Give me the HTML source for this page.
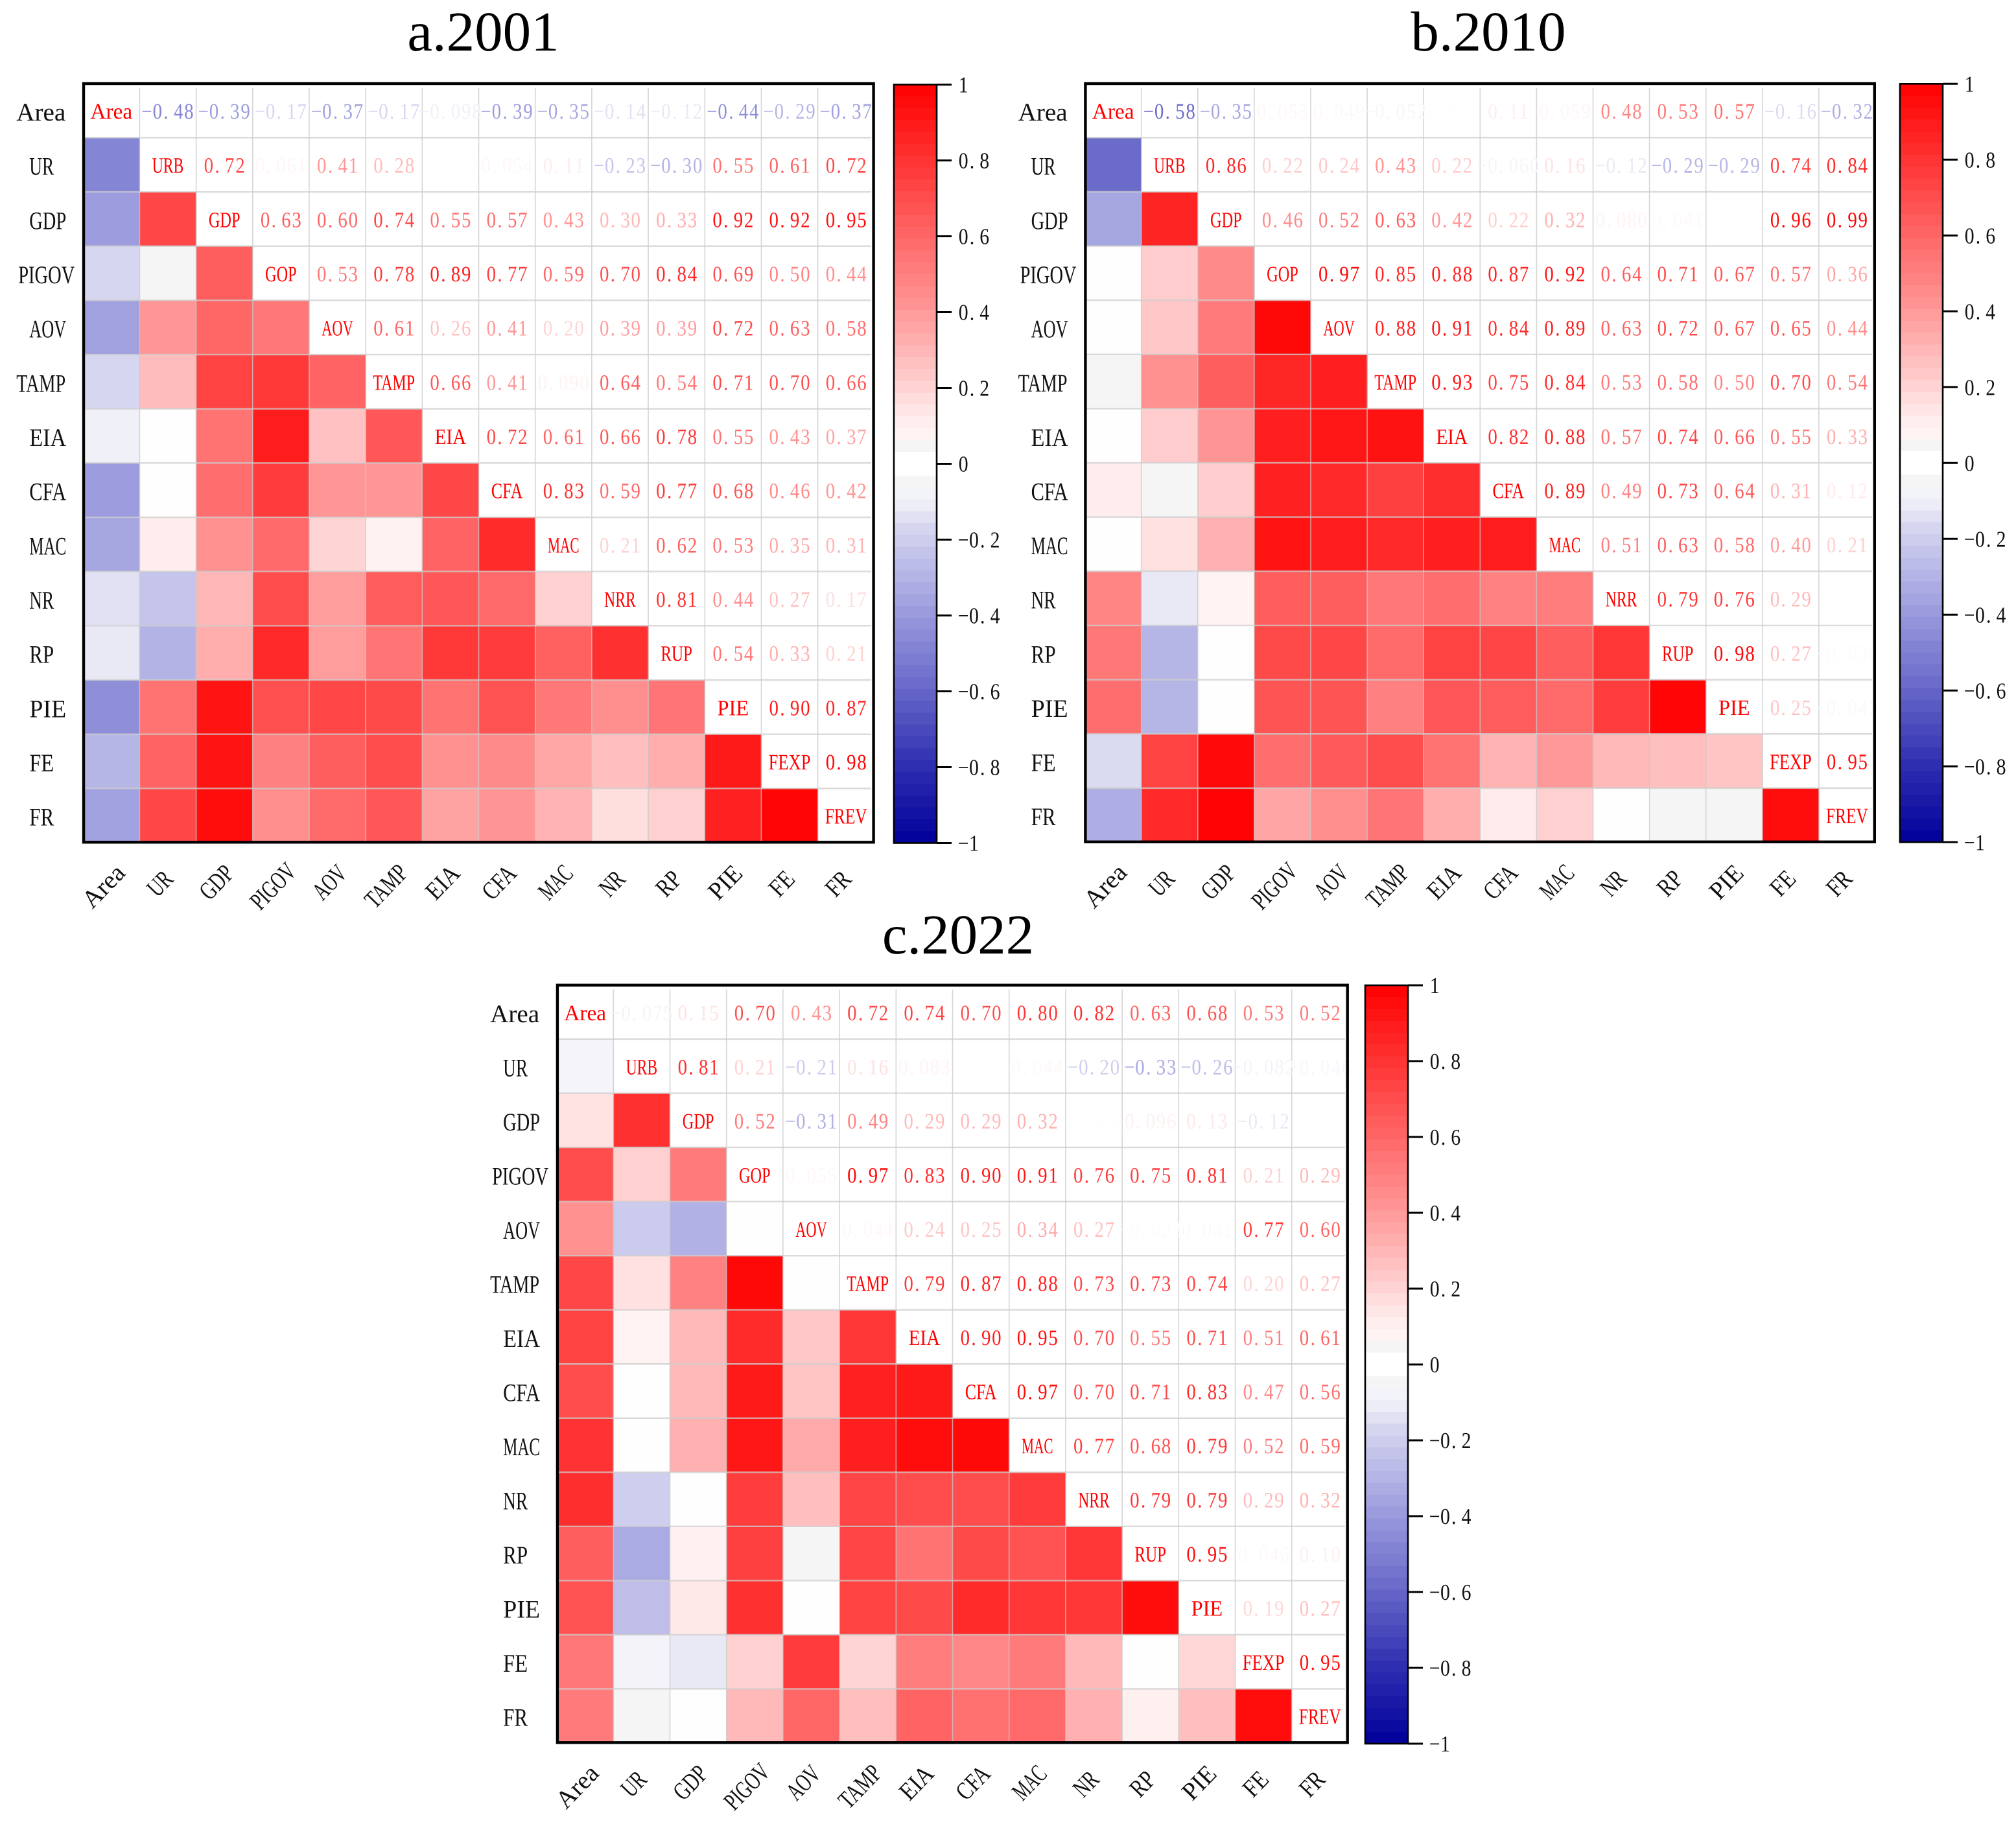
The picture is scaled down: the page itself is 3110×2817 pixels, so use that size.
<!DOCTYPE html>
<html lang="en">
<head>
<meta charset="utf-8">
<title>Correlation heatmaps 2001, 2010, 2022</title>
<style>
html,body{margin:0;padding:0;background:#fff;}
svg{display:block;font-family:"Liberation Serif","Noto Serif CJK SC",serif;text-rendering:geometricPrecision;}
</style>
</head>
<body>
<svg id="figure" xmlns="http://www.w3.org/2000/svg" width="3110" height="2817" viewBox="0 0 3110 2817"></svg>
<script>
const rowLabels = ["Area","UR","GDP","PIGOV","AOV","TAMP","EIA","CFA","MAC","NR","RP","PIE","FE","FR"];
const diagLabels = ["Area","URB","GDP","GOP","AOV","TAMP","EIA","CFA","MAC","NRR","RUP","PIE","FEXP","FREV"];
const tickValues = [1,0.8,0.6,0.4,0.2,0,-0.2,-0.4,-0.6,-0.8,-1];
const tickLabels = ["1","0.8","0.6","0.4","0.2","0","\u22120.2","\u22120.4","\u22120.6","\u22120.8","\u22121"];

const upper2001 = [
[-0.48,-0.39,-0.17,-0.37,-0.17,-0.098,-0.39,-0.35,-0.14,-0.12,-0.44,-0.29,-0.37],
[0.72,0.061,0.41,0.28,0.004,0.054,0.11,-0.23,-0.30,0.55,0.61,0.72],
[0.63,0.60,0.74,0.55,0.57,0.43,0.30,0.33,0.92,0.92,0.95],
[0.53,0.78,0.89,0.77,0.59,0.70,0.84,0.69,0.50,0.44],
[0.61,0.26,0.41,0.20,0.39,0.39,0.72,0.63,0.58],
[0.66,0.41,0.090,0.64,0.54,0.71,0.70,0.66],
[0.72,0.61,0.66,0.78,0.55,0.43,0.37],
[0.83,0.59,0.77,0.68,0.46,0.42],
[0.21,0.62,0.53,0.35,0.31],
[0.81,0.44,0.27,0.17],
[0.54,0.33,0.21],
[0.90,0.87],
[0.98]
];
const upper2010 = [
[-0.58,-0.35,0.053,0.049,-0.052,0.004,0.11,0.059,0.48,0.53,0.57,-0.16,-0.32],
[0.86,0.22,0.24,0.43,0.22,-0.060,0.16,-0.12,-0.29,-0.29,0.74,0.84],
[0.46,0.52,0.63,0.42,0.22,0.32,0.080,0.041,0.002,0.96,0.99],
[0.97,0.85,0.88,0.87,0.92,0.64,0.71,0.67,0.57,0.36],
[0.88,0.91,0.84,0.89,0.63,0.72,0.67,0.65,0.44],
[0.93,0.75,0.84,0.53,0.58,0.50,0.70,0.54],
[0.82,0.88,0.57,0.74,0.66,0.55,0.33],
[0.89,0.49,0.73,0.64,0.31,0.12],
[0.51,0.63,0.58,0.40,0.21],
[0.79,0.76,0.29,0.003],
[0.98,0.27,-0.030],
[0.25,-0.043],
[0.95]
];
const upper2022 = [
[-0.075,0.15,0.70,0.43,0.72,0.74,0.70,0.80,0.82,0.63,0.68,0.53,0.52],
[0.81,0.21,-0.21,0.16,0.083,0.003,0.044,-0.20,-0.33,-0.26,-0.082,-0.046],
[0.52,-0.31,0.49,0.29,0.29,0.32,0.004,0.096,0.13,-0.12,0.002],
[0.055,0.97,0.83,0.90,0.91,0.76,0.75,0.81,0.21,0.29],
[0.044,0.24,0.25,0.34,0.27,-0.023,0.041,0.77,0.60],
[0.79,0.87,0.88,0.73,0.73,0.74,0.20,0.27],
[0.90,0.95,0.70,0.55,0.71,0.51,0.61],
[0.97,0.70,0.71,0.83,0.47,0.56],
[0.77,0.68,0.79,0.52,0.59],
[0.79,0.79,0.29,0.32],
[0.95,0.046,0.10],
[0.19,0.27],
[0.95]
];

const colorStops = [0,0.1,0.17,0.22,0.4,0.6,0.8,1];
const posGB = [255,240,222,205,153,102,51,0];
const negRG = [255,240,214,200,153,102,45,0];
const negB = [255,248,240,236,221,200,176,155];

const NS = "http://www.w3.org/2000/svg";
const svg = document.getElementById("figure");

function lerpStops(t, ys){
  for(let i=1;i<colorStops.length;i++){
    if(t<=colorStops[i]){
      const f=(t-colorStops[i-1])/(colorStops[i]-colorStops[i-1]);
      return Math.round(ys[i-1]+(ys[i]-ys[i-1])*f);
    }
  }
  return ys[ys.length-1];
}
function rawColor(v){
  if(v>=0){
    const g=lerpStops(Math.min(v,1),posGB);
    return "rgb(255,"+g+","+g+")";
  }
  const t=Math.min(-v,1);
  const r=lerpStops(t,negRG), b=lerpStops(t,negB);
  return "rgb("+r+","+r+","+b+")";
}
function cellColor(v){
  if(v>=0){
    if(v<0.06) return "#fefefe";
    if(v<0.075) return "#f5f5f5";
    return rawColor(v);
  }
  if(-v<0.018) return "#ffffff";
  if(-v<0.062) return "#f5f5f5";
  return rawColor(v);
}
function bandColor(v){
  if(v>=0.04 && v<0.07) return "#f5f5f5";
  if(v>=0 && v<0.04) return "#ffffff";
  return cellColor(v);
}
function fmt(v){
  const a=Math.abs(v);
  const s=a<0.1?a.toFixed(3):a.toFixed(2);
  return (v<0?"\u2212":"")+s;
}
function make(tag, parent, attrs){
  const el=document.createElementNS(NS,tag);
  for(const k in attrs) el.setAttribute(k,attrs[k]);
  parent.appendChild(el);
  return el;
}
function charXs(str, slot, sx, centered){
  const n=str.length, out=[];
  for(let i=0;i<n;i++){
    let x=centered?(i-(n-1)/2)*slot:(i+0.5)*slot;
    if(str[i]===".") x-=3;
    out.push((x/sx).toFixed(2));
  }
  return out.join(" ");
}
function glyphText(parent, str, opt){
  const t=make("text",parent,{
    x:charXs(str,opt.slot,opt.sx,opt.centered!==false),
    y:0,
    "text-anchor":"middle",
    "font-size":opt.size,
    fill:opt.fill,
    transform:"translate("+opt.x+" "+opt.y+") scale("+opt.sx+" 1)"
  });
  t.textContent=str;
  return t;
}
function flowText(parent, str, opt){
  const t=make("text",parent,{
    x:0,
    y:0,
    "text-anchor":"middle",
    textLength:opt.len,
    lengthAdjust:"spacingAndGlyphs",
    "font-size":opt.size,
    fill:opt.fill,
    transform:"translate("+opt.x+" "+opt.y+")"+(opt.rot?" rotate("+opt.rot+")":"")
  });
  t.textContent=str;
  return t;
}

const panels = [
  {key:"2001",title:"a.2001",titleX:745.5,titleY:78,L:128.2,T:128.7,W:1220.6,H:1171.3,cbL:1379,cbR:1445,cbT:130.5,cbB:1300.5,upper:upper2001},
  {key:"2010",title:"b.2010",titleX:2296,titleY:78,L:1673.6,T:128.7,W:1219.4,H:1170.8,cbL:2931,cbR:2997,cbT:129.3,cbB:1299.3,upper:upper2010},
  {key:"2022",title:"c.2022",titleX:1478,titleY:1471,L:859.1,T:1519.5,W:1220.8,H:1169.5,cbL:2106,cbR:2172,cbT:1520,cbB:2690,upper:upper2022}
];

function matrixOf(upper){
  const n=rowLabels.length, m=[];
  for(let r=0;r<n;r++){ m.push(new Array(n).fill(null)); }
  upper.forEach(function(row,r){
    row.forEach(function(v,k){
      const c=r+1+k;
      m[r][c]=v;
      m[c][r]=v;
    });
  });
  return m;
}

panels.forEach(function(p){
  const n=rowLabels.length;
  const cw=p.W/n, ch=p.H/n;
  const xAt=function(c){return p.L+c*cw;};
  const yAt=function(r){return p.T+r*ch;};
  const m=matrixOf(p.upper);

  const g=make("g",svg,{});
  
  

  const title=make("text",g,{x:p.titleX,y:p.titleY,"text-anchor":"middle","font-size":87,fill:"#000"});
  
  
  title.textContent=p.title;

  for(let r=0;r<n;r++){
    for(let c=0;c<r;c++){
      const cell=make("rect",g,{x:xAt(c),y:yAt(r),width:cw+0.5,height:ch+0.5,fill:cellColor(m[r][c])});
      
      
    }
  }

  for(let c=1;c<n;c++){
    const ln=make("line",g,{x1:xAt(c),x2:xAt(c),y1:p.T+7,y2:p.T+p.H-3,stroke:"rgba(200,200,200,0.75)","stroke-width":1.6});
    
    
  }
  for(let r=1;r<n;r++){
    const ln=make("line",g,{x1:p.L+3,x2:p.L+p.W-5,y1:yAt(r),y2:yAt(r),stroke:"rgba(205,205,205,0.75)","stroke-width":2.4});
    
    
  }

  for(let r=0;r<n;r++){
    for(let c=r;c<n;c++){
      const tx=xAt(c)+cw/2, ty=yAt(r)+ch/2+12.5;
      let t;
      if(r===c){
        t=flowText(g,diagLabels[r],{x:tx,y:ty,len:diagLabels[r].length*16.2,size:34,fill:"#ff0000"});
        
      }else{
        t=glyphText(g,fmt(m[r][c]),{x:tx,y:ty,slot:16.2,sx:0.85,size:34,fill:rawColor(m[r][c])});
        
      }
      
    }
  }

  const frame=make("rect",g,{x:p.L+0.8,y:p.T+0.3,width:p.W-2,height:p.H-1,fill:"none",stroke:"#000","stroke-width":4.4});
  
  

  rowLabels.forEach(function(lab,r){
    const len=lab.length;
    const off=len>=5?-100:(len===4?-103:-83);
    const slot=len>=5?17.4:19;
    const t=flowText(g,lab,{
      x:p.L+off+len*slot/2,
      y:yAt(r)+ch/2+15.5,
      len:len*slot,
      size:39,
      fill:"#111"
    });
    
    
  });

  rowLabels.forEach(function(lab,c){
    const len=lab.length;
    const slot=len>=5?16.5:19;
    const drop=len>=4?76:(len===3?70:72);
    const t=flowText(g,lab,{
      x:xAt(c)+cw/2-3,
      y:p.T+p.H+drop,
      rot:-46,
      len:len*slot,
      size:39,
      fill:"#111"
    });
    
    
  });

  const cb=make("g",g,{});
  
  
  const cbY=function(v){return p.cbT+(1-v)/2*(p.cbB-p.cbT);};
  const levels=64;
  for(let i=0;i<levels;i++){
    const vTop=1-2*i/levels, vBot=1-2*(i+1)/levels;
    const band=make("rect",cb,{x:p.cbL,y:cbY(vTop),width:p.cbR-p.cbL,height:cbY(vBot)-cbY(vTop)+0.6,fill:bandColor((vTop+vBot)/2)});
    
    
  }
  const cbFrame=make("rect",cb,{x:p.cbL,y:p.cbT,width:p.cbR-p.cbL,height:p.cbB-p.cbT,fill:"none",stroke:"#000","stroke-width":2.6});
  
  
  tickValues.forEach(function(v,i){
    const y=cbY(v);
    const tick=make("line",cb,{x1:p.cbR,x2:p.cbR+23,y1:y,y2:y,stroke:"#000","stroke-width":3});
    
    
    const t=glyphText(cb,tickLabels[i],{
      x:p.cbR+33,
      y:y+12,
      slot:16.3,
      sx:0.85,
      size:35,
      fill:"#111",
      centered:false
    });
    
    
  });
});
</script>
</body>
</html>
